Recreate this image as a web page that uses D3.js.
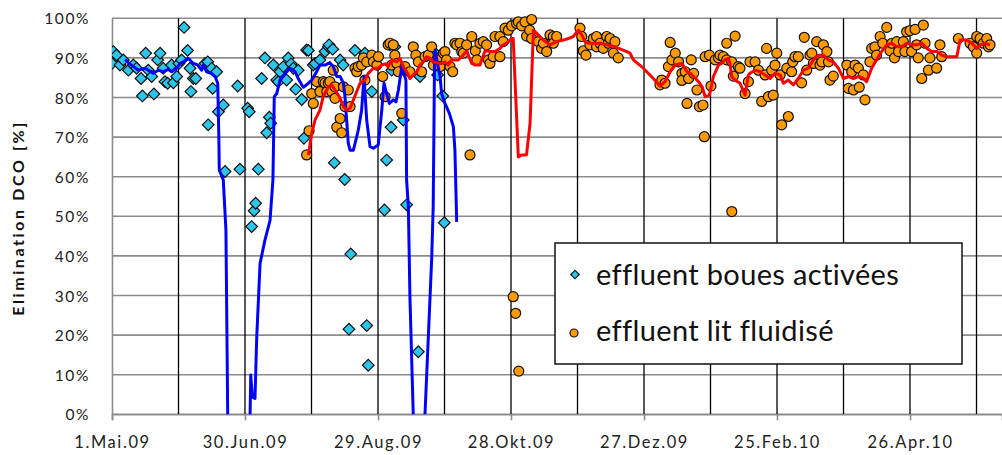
<!DOCTYPE html>
<html><head><meta charset="utf-8">
<script src="https://cdn.jsdelivr.net/npm/d3@7/dist/d3.min.js"></script>
<style>body{margin:0;background:#fff} svg{display:block}</style>
</head><body><svg id="c" width="1002" height="455"></svg>
<script>
// x values are days since 1 May 2009
const tickDays = [0, 60, 120, 180, 240, 300, 360];
const tickLabels = ["1.Mai.09", "30.Jun.09", "29.Aug.09", "28.Okt.09", "27.Dez.09", "25.Feb.10", "26.Apr.10"];
const gridDays = [30, 60, 90, 120, 150, 180, 210, 240, 270, 300, 330, 360, 390];
const yTicks = [0, 10, 20, 30, 40, 50, 60, 70, 80, 90, 100];
const yTitle = "Elimination DCO [%]";
const legendLabels = ["effluent boues activées", "effluent lit fluidisé"];

// effluent boues activées — measured points [day, %]
const bouesPoints = [[0,88.6],[0.6,91.6],[2.1,90.7],[3.6,88.2],[5.1,89.5],[7.4,86.9],[9.6,88.2],[11.1,87.4],[13.1,84.8],[13.7,80.4],[15.2,91.2],[16.4,86.9],[17.9,85.3],[18.9,80.9],[20.6,89.5],[21.7,91.2],[23.1,87.4],[23.9,84.0],[25.1,83.6],[26.9,88.2],[27.7,83.7],[29.2,85.3],[30.2,88.6],[31.4,89.5],[32.5,97.7],[34.1,91.9],[35.2,87.4],[35.6,81.5],[36.7,84.8],[37.8,84.8],[42,88.6],[43.2,89],[43.4,73.1],[45,87.4],[45.4,82.3],[47.2,86.5],[48,76.4],[50.2,78.1],[51,61.3],[56.7,82.9],[57.7,61.9],[61.2,77.3],[61.9,76.4],[63,47.4],[64.1,51.4],[64.8,53.3],[66,61.9],[67.5,84.8],[69,90],[69.8,71.1],[71,75],[71.6,73.5],[72.8,88.2],[74.3,84.4],[75,84],[75.8,86.5],[77.3,87.8],[78.8,84.4],[79.5,90],[80.8,88.5],[81.8,87.4],[82.9,82.1],[84,86.9],[85.6,79.5],[86.6,69.7],[87.8,92],[88.6,91.9],[90.8,88.2],[91.6,88.6],[93.8,89.5],[96.1,91.6],[97.6,92.8],[97.9,93.3],[99.6,92.2],[100.3,63.5],[102.9,89.5],[104.3,88.2],[105,59.3],[106.9,21.5],[107.7,40.5],[109.6,91.9],[114.1,91.2],[114.9,22.4],[115.6,12.4],[117.2,81.5],[122.9,51.6],[123.9,64.2],[125.4,93.3],[125.9,72.5],[126.2,86.9],[127.6,92.8],[131.4,74.3],[132.9,52.9],[138.2,15.8],[138.9,85.3],[145,91.6],[146.9,85.7],[149.2,80.4],[149.9,48.4]];

// effluent boues activées — moving average [day, %]
const bouesAvg = [[5.9,89.6],[8,88.5],[11.9,86.9],[14.9,87.4],[18.6,86.1],[20.9,86.9],[23.1,86.5],[25.4,87.1],[26.9,86.5],[29.2,87.4],[30.7,88.6],[32.2,89],[34.4,89.9],[36.7,88.6],[38.6,88.2],[40.5,86.9],[41.2,88.2],[42.7,86.5],[44.7,86.1],[46.5,85.3],[47.7,83.6],[48.2,70],[48.4,61.7],[50.2,59.2],[51.4,46.5],[52.2,0],[53.2,-30],[61.4,-30],[62.3,0],[62.6,9.9],[63.3,4.4],[64.5,4],[65.3,19.6],[66.8,38.1],[69,44],[71.3,49],[72.6,59.2],[73.2,80.2],[74.3,81],[75.8,84.4],[78.8,86.5],[80.3,87.4],[82.6,86.5],[84,84.8],[85.6,83.2],[86.3,82.6],[87.8,83.2],[90.1,84.4],[92.3,86.5],[93.8,88.2],[96.1,88.2],[98.3,88.8],[99.8,87.8],[101.4,85.3],[102.9,85.3],[104.4,83.6],[105.1,80.2],[106.6,68.4],[107.4,66.7],[108.9,66.7],[110.4,70.1],[111.1,71.8],[112.6,76.8],[113.7,85.3],[114.9,74.3],[116.4,67.6],[117.9,67.2],[120.1,68],[121.7,76.8],[122.7,83.6],[123.9,81],[125.1,78.5],[126.9,79.4],[128.1,78.9],[129.2,81.9],[130.7,87.8],[131.4,86.5],[132.6,84.4],[132.9,59.2],[133.7,52.4],[134.4,29.7],[135.9,0],[136.9,-20],[140.2,-13],[141.2,0],[144.2,39],[144.9,52.4],[145.2,70],[145.5,89.5],[145.8,92],[146.5,89.5],[148,85.3],[148.7,81],[150.2,78.5],[152.2,76],[154,72.6],[154.7,66.7],[155.5,48.6]];

// effluent lit fluidisé — measured points [day, %]
const litPoints = [[87.8,65.5],[88.9,71.6],[90.1,81],[90.8,78.5],[92.3,84],[93.8,81.5],[95.3,84],[96.1,83.7],[96.9,81.5],[97.6,83.6],[98.3,84],[99.1,81.5],[99.8,86.9],[100.6,79.8],[100.6,82.7],[101.4,72.5],[102.9,74.7],[103.6,71.1],[104.4,82.7],[105.1,77.7],[106.6,81.9],[107.4,77.7],[109.6,87.4],[110.4,86.5],[111.1,87.8],[112.6,88.2],[113.4,90],[114.1,84.4],[114.9,89],[117.2,90.7],[117.9,89],[119.5,88.2],[120.2,90.3],[122.1,85.3],[123.2,80.2],[124.6,93.3],[125.4,93.7],[126.2,88.2],[126.9,93.3],[127.6,90.7],[128.5,88.6],[129.2,86.5],[130.7,76],[132.2,87.8],[134.4,86.5],[135.9,92.8],[137.1,90.7],[138.2,89],[139.7,86.5],[141.2,90.3],[142.7,90.7],[144.2,92.8],[145,88.2],[146.5,89.5],[148,87.8],[149.5,91.2],[150.2,91.6],[150.9,89.5],[152.5,87.8],[153.7,86.5],[154.7,93.7],[155.5,93.3],[157,93.7],[157.8,91.6],[158.5,91.2],[160,93.3],[161.5,65.5],[162.3,95.4],[163.9,91.8],[164.6,89.5],[166,93.7],[167.5,94.1],[169,93.3],[169.8,89.5],[170.5,88.6],[172,90.3],[172.8,95.4],[175,95.4],[175,90.3],[176.5,94.1],[177.3,97.5],[178.8,97],[180.3,98.1],[181,29.7],[182.1,25.5],[182.5,98.7],[183.3,99.1],[183.5,10.9],[184.8,98.1],[186.3,99.1],[187,95.5],[188.4,97],[189.3,99.7],[189.3,94.9],[192.3,94.1],[193.8,92.4],[194.6,93.7],[196.1,91.6],[197.6,95.8],[199.1,95.4],[199.1,93.7],[200.6,95.4],[211.1,97.5],[211.9,95.4],[212.6,91.8],[213.8,90.7],[215.6,93.3],[217.1,94.9],[218.6,95.4],[218.6,92.8],[220.1,93.7],[221.6,92.4],[223.2,95.4],[223.9,93.7],[224.7,94.9],[226.2,91.2],[226.9,94.1],[228.4,90],[247.2,83.2],[248,84.4],[249.5,83.6],[251,87.8],[251.8,93.9],[252.6,89.5],[254.1,91.2],[255.6,89],[257.1,86.1],[257.1,84.3],[258.6,86.5],[259.4,78.5],[260.1,84.8],[261.3,89.5],[262.4,86.1],[263.9,81.9],[265,77.7],[266.6,78.1],[267.2,70.1],[267.6,90.3],[269.5,90.7],[270.2,82.9],[272.1,89.5],[273.6,90],[274.3,90.7],[275.8,90.3],[277.3,93.7],[277.3,89.5],[279.6,89],[279.6,51.2],[280.3,85.4],[281.1,95.5],[282.5,87.8],[283.3,87.4],[285.6,81],[287.1,84],[287.8,89],[290.1,89],[291.6,86.9],[293.1,79],[294.6,85.7],[295.3,92.4],[296.1,80.2],[297.6,86.9],[298.3,80.6],[299.1,88.2],[299.9,91.2],[301.4,85.7],[302.1,73.1],[304.4,87.4],[305.1,75.2],[306.6,86.5],[307.1,89],[308.1,90.3],[309.6,90.3],[311.1,83.7],[312.3,95.2],[313.4,86.9],[314.9,90.7],[315.7,91.2],[316.4,88.6],[317.9,94.1],[319.4,88.2],[320.2,89],[320.9,93.3],[322.5,91.6],[323.2,89],[323.9,84.4],[325.4,85.4],[331.5,88.2],[332.2,82.3],[333.7,86.5],[334.5,81.9],[335.2,88.2],[336.7,87.4],[337.1,82.6],[338.9,85.7],[339.7,79.4],[341.9,89],[342.7,92.4],[344.2,92.8],[344.9,90.7],[346.5,95.4],[347.7,93.7],[349.5,97.7],[351,91.8],[351.8,93.7],[353,90],[354,94.1],[354.8,91.6],[357,94.1],[357.7,91.6],[358.5,96.6],[360,96.9],[360.7,91.6],[362.3,97.2],[363,93.3],[363.7,90],[365.3,84.8],[366,98.3],[366.8,93.7],[368.3,86.9],[369,90],[372,87.4],[373.5,93.3],[374.3,90.3],[381.8,94.9],[387.1,93.7],[388.6,92.8],[390.1,95.4],[390.1,91.2],[391.6,94.9],[393.1,93.7],[394.6,94.9],[395.4,92.8],[396.1,93.3]];

// effluent lit fluidisé — moving average [day, %]
const litAvg = [[88.6,65.5],[90.1,71],[91.6,74.3],[93.8,76.8],[95.3,80.2],[97.6,82.7],[99.1,83.2],[100.6,81.9],[102.1,80.6],[102.9,79.8],[104.4,77.7],[105.9,76.8],[107.4,77.3],[108.9,79.4],[110.4,81.5],[111.9,83.6],[114.1,84.4],[115.6,86.1],[117.9,87.4],[120.1,87.4],[121.7,88.2],[123.2,88.5],[124.6,87.8],[126.2,89.5],[128.5,89],[129.9,89.9],[131.4,87.8],[132.9,86.5],[134.4,84.8],[135.9,85.7],[137.5,86.5],[138.9,88.2],[140.4,89],[141.9,90.3],[143.5,89.9],[145,89],[147.2,88.6],[148.7,88.6],[150.2,89],[151.7,88.2],[153.2,89.5],[154.7,89.5],[156.2,89.5],[157.8,90.3],[160,91.8],[162.3,88.6],[163.9,88.2],[166,88.2],[168.3,91.8],[170.5,91.6],[172.8,91.6],[175,92.4],[176.5,93.3],[178,93.7],[180.3,94.9],[181,94.9],[183.3,65],[184.8,65.5],[187,65.5],[188.6,73.5],[190.1,97],[191.6,96.2],[194.6,94.5],[197.6,93.3],[200.6,94.1],[203.6,94.5],[205.9,94.9],[208.1,95.4],[210.4,97],[211.9,95.8],[213.4,94.1],[214.9,93.7],[217.1,93.7],[220.1,93.7],[223.2,93.3],[226.9,92.8],[231.4,91.8],[233.7,91.2],[235.2,89.5],[239.7,87.4],[244.2,84.8],[247.2,82.9],[249.5,84],[251.8,86.5],[254.1,88.2],[257.1,88.6],[259.4,86.5],[260.9,86.1],[262.4,85.3],[264.6,84],[266.2,82.7],[267.6,80.2],[269.5,80.6],[271.3,85.3],[273.6,88.2],[275,88.6],[276.5,89.5],[278,89.9],[278.8,88.6],[279.5,85.3],[281,84.4],[283.3,83.6],[285.6,80.6],[287.1,85.7],[287.8,86.1],[290.1,86.9],[292.4,86.5],[294.6,85.7],[296.9,84.8],[299.1,86.1],[301.4,85.7],[302.9,83.6],[305.1,84.4],[307.4,83.2],[309.6,84.8],[311.9,86.9],[314.1,87.4],[316.4,89.5],[318.7,90.7],[320.9,90.7],[323.2,89.5],[325.4,89],[327.7,87.4],[330,84.8],[332.2,85.3],[334.5,84.8],[336.7,85.3],[339,84.8],[340.4,84],[342.7,87.4],[344.9,89.5],[347.2,91.6],[349.5,93.3],[351.7,93.7],[354,92.8],[356.3,92.8],[358.5,93.7],[360.8,93.3],[363,93.3],[365.3,93.7],[367.6,92.4],[369.8,91.6],[372.1,91.6],[374.3,90.7],[376.6,90.3],[378.8,90.3],[381.1,90.3],[382.6,94.5],[385.6,94.5],[387.9,93.7],[390.1,92.4],[391.6,93.3],[393.9,93.7],[396.1,93.3]];

const W = 1002, H = 455;
const pLeft = 112, pRight = 1002, pTop = 18.3, pBottom = 414.3;
const font = "Lato, 'Open Sans', sans-serif";
const cyan = "#2CC6EC", orange = "#FF9A00";

const svg = d3.select("#c");
const x = d3.scaleLinear().domain([0, 401.5]).range([pLeft, pRight]);
const y = d3.scaleLinear().domain([0, 100]).range([pBottom, pTop]);

// horizontal gridlines
svg.append("g").selectAll("line").data(yTicks).join("line")
  .attr("x1", pLeft).attr("x2", pRight)
  .attr("y1", d => y(d)).attr("y2", d => y(d))
  .attr("stroke", "#8c8c8c").attr("stroke-width", 1.6);

// vertical gridlines
svg.append("g").selectAll("line").data(gridDays).join("line")
  .attr("x1", d => x(d)).attr("x2", d => x(d))
  .attr("y1", pTop).attr("y2", pBottom)
  .attr("stroke", "#000").attr("stroke-width", 1.3);

// y axis
const yAxis = svg.append("g").attr("transform", `translate(${pLeft},0)`)
  .call(d3.axisLeft(y).tickValues(yTicks).tickSize(0).tickPadding(22).tickFormat(d => d + "%"));
yAxis.select(".domain").attr("stroke", "#8c8c8c").attr("stroke-width", 1.6);
yAxis.selectAll("text").attr("font-family", font).attr("font-size", 15.5)
  .attr("letter-spacing", "1.6px").attr("fill", "#222").attr("dy", "0.36em");

// x axis
const xAxis = svg.append("g").attr("transform", `translate(0,${pBottom})`)
  .call(d3.axisBottom(x).tickValues(tickDays).tickSize(6).tickPadding(16)
        .tickFormat((d, i) => tickLabels[i]));
xAxis.select(".domain").attr("stroke", "#8c8c8c").attr("stroke-width", 1.6);
xAxis.selectAll(".tick line").attr("stroke", "#8c8c8c").attr("stroke-width", 1.6);
xAxis.selectAll("text").attr("font-family", font).attr("font-size", 16.5)
  .attr("letter-spacing", "1.6px").attr("fill", "#222");

// y title
svg.append("text")
  .attr("transform", `translate(23.5,218) rotate(-90)`)
  .attr("text-anchor", "middle")
  .attr("font-family", font).attr("font-size", 16).attr("font-weight", "bold")
  .attr("letter-spacing", "2.6px").attr("fill", "#111")
  .text(yTitle);

// clip
svg.append("clipPath").attr("id", "clip").append("rect")
  .attr("x", pLeft).attr("y", pTop - 6).attr("width", pRight - pLeft).attr("height", pBottom - pTop + 6);

const plot = svg.append("g").attr("clip-path", "url(#clip)");
const diamond = d3.symbol().type(d3.symbolSquare).size(68);

plot.append("g").selectAll("path").data(bouesPoints).join("path")
  .attr("d", diamond)
  .attr("transform", d => `translate(${x(d[0])},${y(d[1])}) rotate(45)`)
  .attr("fill", cyan).attr("stroke", "#111").attr("stroke-width", 1.2);

plot.append("g").selectAll("circle").data(litPoints).join("circle")
  .attr("cx", d => x(d[0])).attr("cy", d => y(d[1])).attr("r", 5)
  .attr("fill", orange).attr("stroke", "#111").attr("stroke-width", 1.2);

const line = d3.line().x(d => x(d[0])).y(d => y(d[1]));
plot.append("path").datum(bouesAvg).attr("d", line)
  .attr("fill", "none").attr("stroke", "#0000FF").attr("stroke-width", 3).attr("stroke-linejoin", "round");
plot.append("path").datum(litAvg).attr("d", line)
  .attr("fill", "none").attr("stroke", "#FF0000").attr("stroke-width", 3).attr("stroke-linejoin", "round");

// legend
const lg = svg.append("g");
lg.append("rect").attr("x", 555).attr("y", 243).attr("width", 407).attr("height", 121)
  .attr("fill", "#fff").attr("stroke", "#111").attr("stroke-width", 1.5);
lg.append("path").attr("d", d3.symbol().type(d3.symbolSquare).size(36))
  .attr("transform", "translate(575,274.5) rotate(45)")
  .attr("fill", cyan).attr("stroke", "#111").attr("stroke-width", 1.2);
lg.append("circle").attr("cx", 574).attr("cy", 333).attr("r", 4)
  .attr("fill", orange).attr("stroke", "#111").attr("stroke-width", 1.2);
lg.selectAll("text").data(legendLabels).join("text")
  .attr("x", 596).attr("y", (d, i) => i === 0 ? 285 : 341)
  .attr("font-family", font).attr("font-size", 29).attr("letter-spacing", "0.35px").attr("fill", "#111")
  .text(d => d);
</script></body></html>
